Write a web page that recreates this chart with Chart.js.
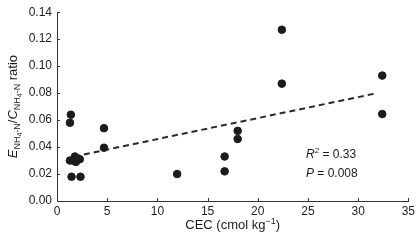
<!DOCTYPE html>
<html>
<head>
<meta charset="utf-8">
<script src="https://cdn.jsdelivr.net/npm/chart.js@4.4.1/dist/chart.umd.min.js"></script>
<style>
  html, body { margin: 0; padding: 0; background: #fff; }
  #wrap { width: 418px; height: 244px; }
</style>
</head>
<body>
<div id="wrap"><canvas id="chart" width="418" height="244"></canvas></div>
<script>
// values
const cec = [1.29, 1.38, 1.29, 1.6, 1.78, 1.88, 2.27, 1.45, 2.34, 4.68, 4.68, 11.97, 16.7, 16.7, 18.0, 18.0, 22.4, 22.4, 32.4, 32.4];
const ratio = [0.058, 0.064, 0.030, 0.030, 0.033, 0.029, 0.031, 0.018, 0.018, 0.054, 0.0395, 0.020, 0.033, 0.022, 0.052, 0.046, 0.127, 0.087, 0.093, 0.0645];

// fitted line end points
const trendCec = [1.7, 31.9];
const trendRatio = [0.033, 0.080];

const xTicks = [0, 5, 10, 15, 20, 25, 30, 35];
const yTicks = [0, 0.02, 0.04, 0.06, 0.08, 0.10, 0.12, 0.14];

const statLines = [["R", "2", " = 0.33"], ["P", "", " = 0.008"]];

const ink = "#1b1b1b";
const fontFam = "'Liberation Sans', Arial, sans-serif";

// draw a run of text pieces: [text, size, italic, dy]
function drawRuns(ctx, runs, x, y) {
    let cx = x;
    runs.forEach(r => {
        ctx.font = (r[2] ? "italic " : "") + r[1] + "px " + fontFam;
        ctx.fillText(r[0], cx, y + r[3]);
        cx += ctx.measureText(r[0]).width;
    });
    return cx - x;
}
function runsWidth(ctx, runs) {
    let w = 0;
    runs.forEach(r => {
        ctx.font = (r[2] ? "italic " : "") + r[1] + "px " + fontFam;
        w += ctx.measureText(r[0]).width;
    });
    return w;
}

const decor = {
    id: "decor",
    afterDraw(chart) {
        const ctx = chart.ctx;
        const xs = chart.scales.x, ys = chart.scales.y;
        const area = chart.chartArea;
        ctx.save();
        ctx.strokeStyle = "#333";
        ctx.lineWidth = 1;
        // inside tick marks
        ctx.beginPath();
        xTicks.forEach(v => {
            const px = Math.round(xs.getPixelForValue(v)) + 0.5;
            ctx.moveTo(px, area.bottom);
            ctx.lineTo(px, area.bottom - 3);
        });
        yTicks.forEach(v => {
            const py = Math.round(ys.getPixelForValue(v)) + 0.5;
            ctx.moveTo(area.left, py);
            ctx.lineTo(area.left + 3, py);
        });
        ctx.stroke();

        ctx.fillStyle = ink;
        ctx.textBaseline = "alphabetic";

        // x title
        const xRuns = [["CEC (cmol kg", 13, false, 0], ["\u22121", 9, false, -5], [")", 13, false, 0]];
        const xw = runsWidth(ctx, xRuns);
        drawRuns(ctx, xRuns, (area.left + area.right) / 2 - xw / 2, 229);

        // y title, rotated
        const yRuns = [
            ["E", 13, true, 0], ["NH", 9, false, 3], ["4", 7, false, 5], ["-N", 9, false, 3],
            ["/", 13, false, 0],
            ["C", 13, true, 0], ["NH", 9, false, 3], ["4", 7, false, 5], ["-N", 9, false, 3],
            [" ratio", 13, false, 0]
        ];
        const yw = runsWidth(ctx, yRuns);
        ctx.save();
        ctx.translate(17, (area.top + area.bottom) / 2 + yw / 2);
        ctx.rotate(-Math.PI / 2);
        drawRuns(ctx, yRuns, 0, 0);
        ctx.restore();

        // stats text
        statLines.forEach((s, i) => {
            const runs = [[s[0], 12, true, 0], [s[1], 8, false, -5], [s[2], 12, false, 0]];
            drawRuns(ctx, runs, area.left + 249, 158 + i * 19);
        });
        ctx.restore();
    }
};

const ctx = document.getElementById("chart").getContext("2d");

new Chart(ctx, {
    type: "scatter",
    data: {
        datasets: [
            {
                data: cec.map((v, i) => ({ x: v, y: ratio[i] })),
                backgroundColor: ink,
                borderColor: ink,
                pointRadius: 3.8,
                pointHoverRadius: 3.8,
                order: 1
            },
            {
                type: "line",
                data: trendCec.map((v, i) => ({ x: v, y: trendRatio[i] })),
                borderColor: "#2a2a2a",
                borderWidth: 2,
                borderDash: [6, 4],
                pointRadius: 0,
                fill: false,
                order: 2
            }
        ]
    },
    options: {
        responsive: false,
        animation: false,
        layout: { padding: { top: 5, right: 7, left: 0, bottom: 0 } },
        plugins: { legend: { display: false }, tooltip: { enabled: false } },
        scales: {
            x: {
                type: "linear",
                min: 0, max: 35,
                afterBuildTicks: s => { s.ticks = xTicks.map(v => ({ value: v })); },
                afterFit: s => { s.height = 43; },
                grid: { display: false, drawTicks: false },
                border: { color: "#333", width: 1 },
                ticks: { color: "#222", font: { family: fontFam, size: 12 }, padding: 3 }
            },
            y: {
                type: "linear",
                min: 0, max: 0.14,
                afterBuildTicks: s => { s.ticks = yTicks.map(v => ({ value: v })); },
                afterFit: s => { s.width = 57; },
                grid: { display: false, drawTicks: false },
                border: { color: "#333", width: 1 },
                ticks: {
                    color: "#222",
                    font: { family: fontFam, size: 12 },
                    padding: 5,
                    callback: v => v.toFixed(2)
                }
            }
        }
    },
    plugins: [decor]
});
</script>
</body>
</html>
